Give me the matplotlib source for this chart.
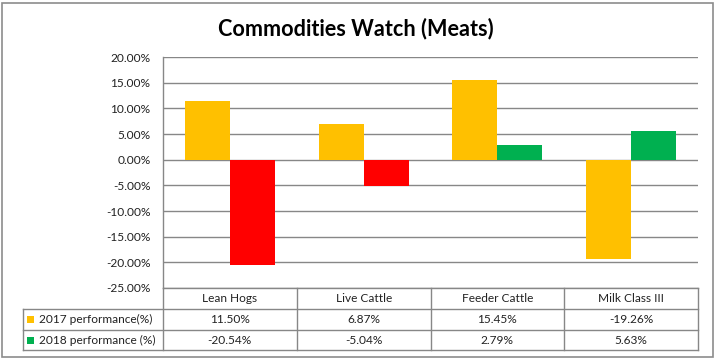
import matplotlib
matplotlib.use("Agg")
import matplotlib.pyplot as plt
from matplotlib.lines import Line2D
from matplotlib.patches import Rectangle
from matplotlib.transforms import blended_transform_factory
import numpy as np

categories = ["Lean Hogs", "Live Cattle", "Feeder Cattle", "Milk Class III"]
series_names = ["2017 performance(%)", "2018 performance (%)"]
perf_2017 = [11.50, 6.87, 15.45, -19.26]
perf_2018 = [-20.54, -5.04, 2.79, 5.63]
yticks = [20, 15, 10, 5, 0, -5, -10, -15, -20, -25]

C2017 = "#FFC000"
C2018_POS = "#00B050"
C2018_NEG = "#FF0000"
GRID = "#878787"
FONT = "Lato"

W, H = 714, 358
fig = plt.figure(figsize=(W / 100, H / 100), dpi=100)
fig.patch.set_facecolor("white")

# plot area in pixels
L, R, T, B = 163, 698, 57, 288
ax = fig.add_axes([L / W, 1 - B / H, (R - L) / W, (B - T) / H])

x = np.arange(len(categories))
bw = 0.336
ax.bar(x - bw / 2, perf_2017, width=bw, color=C2017, zorder=3)
ax.bar(x + bw / 2, perf_2018, width=bw,
       color=[C2018_POS if v >= 0 else C2018_NEG for v in perf_2018], zorder=3)

ax.set_xlim(-0.5, len(categories) - 0.5)
ax.set_ylim(min(yticks), max(yticks))
ax.set_yticks(yticks)
ax.set_yticklabels([f"{v:.2f}%" for v in yticks], fontfamily=FONT, fontsize=8.6, color="#222222")
ax.tick_params(axis="y", length=0, pad=9)
ax.set_xticks([])
ax.yaxis.grid(True, color=GRID, linewidth=1.0, zorder=0)
ax.set_axisbelow(True)
for s in ["top", "right", "bottom"]:
    ax.spines[s].set_visible(False)
ax.spines["left"].set_color(GRID)
ax.spines["left"].set_linewidth(1.0)

# ---- data table below the plot ----
ph = B - T  # plot height px
def ay(py):
    return (B - py) / ph

tr = blended_transform_factory(ax.transData, ax.transAxes)
px_per_cat = (R - L) / len(categories)
leg_left = -0.5 - (L - 23) / px_per_cat

rows_py = [288, 309, 330, 350]
bounds = [i - 0.5 for i in range(len(categories) + 1)]

def hline(x0, x1, py):
    ax.add_line(Line2D([x0, x1], [ay(py), ay(py)], transform=tr, color=GRID,
                       linewidth=1.0, clip_on=False, zorder=5))

def vline(xd, py0, py1):
    ax.add_line(Line2D([xd, xd], [ay(py0), ay(py1)], transform=tr, color=GRID,
                       linewidth=1.0, clip_on=False, zorder=5))

hline(bounds[0], bounds[-1], rows_py[0])
for py in rows_py[1:]:
    hline(leg_left, bounds[-1], py)
vline(leg_left, rows_py[1], rows_py[3])
for b in bounds:
    vline(b, rows_py[0], rows_py[3])

tfs = 8.6
for i, c in enumerate(categories):
    ax.text(i, ay((rows_py[0] + rows_py[1]) / 2), c, transform=tr, ha="center", va="center",
            fontfamily=FONT, fontsize=tfs, color="#222222", clip_on=False)
    ax.text(i, ay((rows_py[1] + rows_py[2]) / 2), f"{perf_2017[i]:.2f}%", transform=tr,
            ha="center", va="center", fontfamily=FONT, fontsize=tfs, color="#222222", clip_on=False)
    ax.text(i, ay((rows_py[2] + rows_py[3]) / 2), f"{perf_2018[i]:.2f}%", transform=tr,
            ha="center", va="center", fontfamily=FONT, fontsize=tfs, color="#222222", clip_on=False)

# legend keys in table
for r, (name, col) in enumerate(zip(series_names, [C2017, C2018_POS])):
    yc = (rows_py[r + 1] + rows_py[r + 2]) / 2
    fig.patches.append(Rectangle((27 / W, 1 - (yc + 3.5) / H), 7 / W, 7 / H,
                                 transform=fig.transFigure, facecolor=col, edgecolor="none"))
    fig.text(39 / W, 1 - yc / H, name, ha="left", va="center", fontfamily=FONT,
             fontsize=tfs, color="#222222")

# title
fig.text(356 / W, 1 - 29 / H, "Commodities Watch (Meats)", ha="center", va="center",
         fontfamily=FONT, fontsize=15.6, fontweight="bold", color="black")

# outer border
fig.patches.append(Rectangle((1.5 / W, 1.5 / H), (W - 3) / W, (H - 4) / H,
                             transform=fig.transFigure, facecolor="none",
                             edgecolor="#8c8c8c", linewidth=1.2))

fig.savefig("out.png", dpi=100)
